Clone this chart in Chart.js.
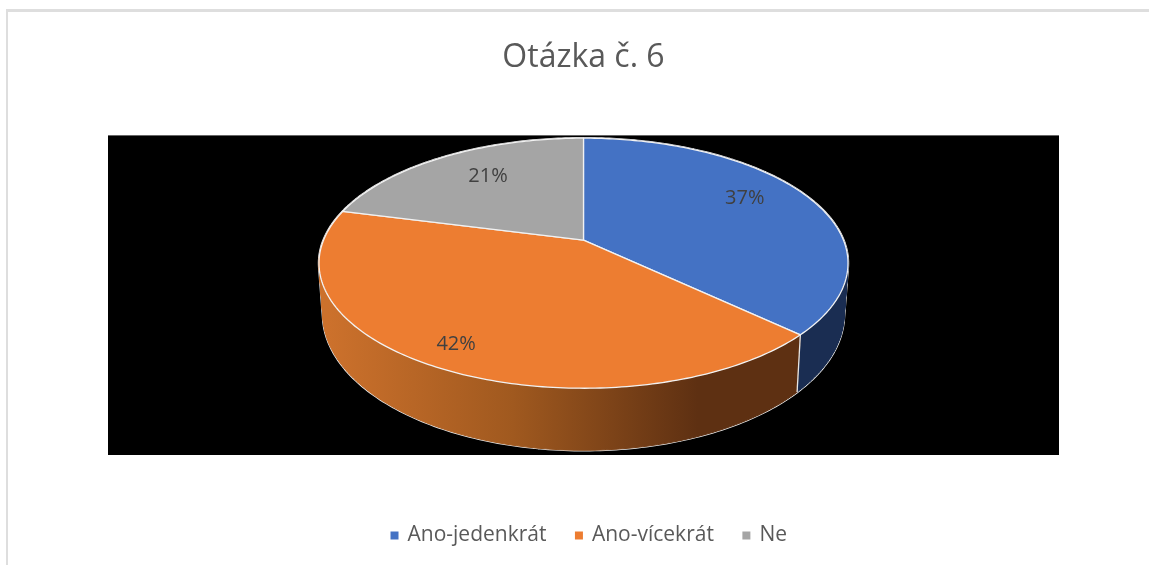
<!DOCTYPE html>
<html>
<head>
<meta charset="utf-8">
<style>
  html, body { margin: 0; padding: 0; background: #fff; overflow: hidden; }
  #frame { position: absolute; left: 6px; top: 9px; width: 1200px; height: 600px; border-left: 2px solid #dedede; border-top: 3px solid #dedede; }
  #wrap { position: absolute; left: 8px; top: 12px; width: 1152px; height: 553px; }
</style>
<script src="https://cdn.jsdelivr.net/npm/chart.js@4/dist/chart.umd.min.js"></script>
</head>
<body>
<div id="frame"></div>
<div id="wrap"><canvas id="chartPie"></canvas></div>
<script>
var categories = ["Ano-jedenkrát", "Ano-vícekrát", "Ne"];
var values = [37, 42, 21];
var colors = ['#4472c4', '#ed7d31', '#a5a5a5'];

// look of the tilted disc, in px
var tilt = { apexUp: 55, rx: 260, ry: 120.8, persp: -0.184, depth: 49, bottomX: 0.985, bottomY: 1.088 };
var labelDepth = [0.72, 0.85, 0.74];
var labelNudge = [[-2, -9], [-4, 0], [11, 0]];

function project(el, angle, t, lower) {
  var u = Math.cos(angle) * t, v = Math.sin(angle) * t;
  var d = 1 + tilt.persp * v;
  return {
    x: el.x + tilt.rx * (lower ? tilt.bottomX : 1) * u / d,
    y: el.y - tilt.apexUp + tilt.ry * (lower ? tilt.bottomY : 1) * v / d + (lower ? tilt.depth : 0)
  };
}

function ringPath(ctx, el, a, b, lower, start) {
  var n = Math.max(2, Math.ceil(Math.abs(b - a) * 60));
  for (var i = 0; i <= n; i++) {
    var p = project(el, a + (b - a) * i / n, 1, lower);
    if (i == 0 && start) ctx.moveTo(p.x, p.y); else ctx.lineTo(p.x, p.y);
  }
}

function sideFill(ctx, i) {
  if (i == 0) return '#1a2d52';
  if (i == 2) return '#5f5f5f';
  var g = ctx.createLinearGradient(320, 0, 690, 0);
  g.addColorStop(0, '#cc712c');
  g.addColorStop(0.5, '#a0591f');
  g.addColorStop(1, '#5e3012');
  return g;
}

// the wall as small quads in one path, so the straight silhouette at the sides gets filled too
function wallPath(ctx, el) {
  var a = el.startAngle, b = el.endAngle;
  var n = Math.ceil((b - a) * 60);
  ctx.beginPath();
  for (var i = 0; i < n; i++) {
    var a0 = a + (b - a) * i / n, a1 = a + (b - a) * (i + 1) / n;
    var p0 = project(el, a0, 1, false), p1 = project(el, a1, 1, false);
    var q0 = project(el, a0, 1, true), q1 = project(el, a1, 1, true);
    ctx.moveTo(p0.x, p0.y);
    ctx.lineTo(p1.x, p1.y);
    ctx.lineTo(q1.x, q1.y);
    ctx.lineTo(q0.x, q0.y);
    ctx.closePath();
  }
}

var disc3d = {
  id: 'disc3d',
  beforeDraw: function(chart) {
    var a = chart.chartArea, ctx = chart.ctx;
    ctx.fillStyle = '#000';
    ctx.fillRect(a.left, a.top, a.right - a.left, a.bottom - a.top);
  },
  afterLayout: function(chart) {
    // legend sits lower and further right than the layout box puts it
    chart.legend.left += 6;
    chart.legend.right += 6;
    chart.legend.top += 40;
    chart.legend.bottom += 40;
  },
  beforeDatasetsDraw: function(chart) {
    var ctx = chart.ctx, arcs = chart.getDatasetMeta(0).data;
    ctx.save();
    ctx.lineJoin = 'round';

    // walls first, the top face covers whatever is behind it
    arcs.forEach(function(el) {
      wallPath(ctx, el);
      ctx.strokeStyle = '#e6e6e6';
      ctx.lineWidth = 2.4;
      ctx.stroke();
    });
    arcs.forEach(function(el, i) {
      var fill = sideFill(ctx, i);
      wallPath(ctx, el);
      ctx.fillStyle = fill;
      ctx.strokeStyle = fill;
      ctx.lineWidth = 1;
      ctx.fill();
      ctx.stroke();
    });
    // dividers on the wall
    arcs.forEach(function(el) {
      var p = project(el, el.startAngle, 1, false), q = project(el, el.startAngle, 1, true);
      ctx.beginPath();
      ctx.moveTo(p.x, p.y);
      ctx.lineTo(q.x, q.y);
      ctx.strokeStyle = '#e6e6e6';
      ctx.lineWidth = 1.3;
      ctx.stroke();
    });

    // top face
    arcs.forEach(function(el) {
      var c = project(el, 0, 0, false);
      ctx.beginPath();
      ctx.moveTo(c.x, c.y);
      ringPath(ctx, el, el.startAngle, el.endAngle, false, false);
      ctx.closePath();
      ctx.fillStyle = el.options.backgroundColor;
      ctx.fill();
      ctx.strokeStyle = '#f2f2f2';
      ctx.lineWidth = 1.3;
      ctx.stroke();
    });

    // percent labels
    ctx.font = '20px "Open Sans"';
    ctx.fillStyle = '#404040';
    ctx.textAlign = 'center';
    ctx.textBaseline = 'middle';
    arcs.forEach(function(el, i) {
      var p = project(el, (el.startAngle + el.endAngle) / 2, labelDepth[i], false);
      ctx.fillText(values[i] + '%', p.x + labelNudge[i][0], p.y + labelNudge[i][1]);
    });
    ctx.restore();
    return false;
  }
};

var ctx = document.getElementById('chartPie').getContext('2d');
var chart = new Chart(ctx, {
  type: 'pie',
  data: {
    labels: categories,
    datasets: [{
      data: values,
      backgroundColor: colors,
      borderWidth: 0
    }]
  },
  options: {
    responsive: true,
    maintainAspectRatio: false,
    animation: false,
    layout: { padding: { left: 100, right: 101, top: 0, bottom: 49 } },
    plugins: {
      tooltip: { enabled: false },
      title: {
        display: true,
        text: 'Otázka č. 6',
        color: '#595959',
        font: { family: '"Open Sans"', size: 32, weight: 'normal' },
        padding: { top: 27, bottom: 58 }
      },
      legend: {
        position: 'bottom',
        labels: {
          color: '#595959',
          font: { family: '"Open Sans"', size: 21 },
          usePointStyle: true,
          pointStyle: 'rect',
          boxWidth: 5,
          boxHeight: 8,
          padding: 30
        }
      }
    }
  },
  plugins: [disc3d]
});
</script>
</body>
</html>
